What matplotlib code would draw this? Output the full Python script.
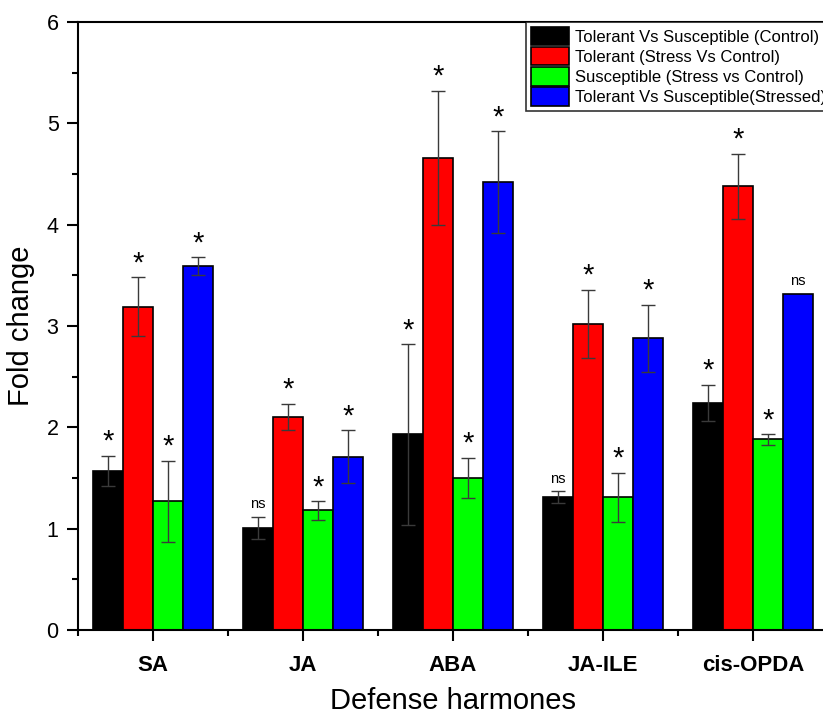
import matplotlib
matplotlib.use("Agg")
import matplotlib.pyplot as plt
import numpy as np

plt.rcParams["font.family"] = ["Liberation Sans", "DejaVu Sans"]

categories = ["SA", "JA", "ABA", "JA-ILE", "cis-OPDA"]
series_names = [
    "Tolerant Vs Susceptible (Control)",
    "Tolerant (Stress Vs Control)",
    "Susceptible (Stress vs Control)",
    "Tolerant Vs Susceptible(Stressed)",
]
colors = ["#000000", "#ff0000", "#00ff00", "#0000ff"]

tol_vs_sus_control = [1.57, 1.01, 1.93, 1.31, 2.24]
tol_stress_vs_control = [3.19, 2.10, 4.66, 3.02, 4.38]
sus_stress_vs_control = [1.27, 1.18, 1.50, 1.31, 1.88]
tol_vs_sus_stressed = [3.59, 1.71, 4.42, 2.88, 3.32]

err_tol_vs_sus_control = [0.15, 0.11, 0.89, 0.06, 0.18]
err_tol_stress_vs_control = [0.29, 0.13, 0.66, 0.34, 0.32]
err_sus_stress_vs_control = [0.40, 0.09, 0.20, 0.24, 0.05]
err_tol_vs_sus_stressed = [0.09, 0.26, 0.50, 0.33, 0.0]

sig_tol_vs_sus_control = ["*", "ns", "*", "ns", "*"]
sig_tol_stress_vs_control = ["*", "*", "*", "*", "*"]
sig_sus_stress_vs_control = ["*", "*", "*", "*", "*"]
sig_tol_vs_sus_stressed = ["*", "*", "*", "*", "ns"]

values = [tol_vs_sus_control, tol_stress_vs_control, sus_stress_vs_control, tol_vs_sus_stressed]
errors = [err_tol_vs_sus_control, err_tol_stress_vs_control, err_sus_stress_vs_control, err_tol_vs_sus_stressed]
marks = [sig_tol_vs_sus_control, sig_tol_stress_vs_control, sig_sus_stress_vs_control, sig_tol_vs_sus_stressed]

fig = plt.figure(figsize=(8.23, 7.15), dpi=100)
ax = fig.add_axes([78 / 823, 85 / 715, 750 / 823, 608 / 715])

x = np.arange(len(categories))
width = 0.2
for i, (vals, errs, sig) in enumerate(zip(values, errors, marks)):
    pos = x + (i - 1.5) * width
    ax.bar(pos, vals, width, color=colors[i], edgecolor="black", linewidth=1.2,
           label=series_names[i], zorder=2)
    has_err = [e > 0 for e in errs]
    ax.errorbar(pos[has_err], np.array(vals)[has_err], yerr=np.array(errs)[has_err],
                fmt="none", ecolor="#3a3a3a", elinewidth=1, capsize=5, capthick=1, zorder=3)
    for p, v, e, s in zip(pos, vals, errs, sig):
        if s == "*":
            ax.annotate(s, (p, v + e), xytext=(0, 0), textcoords="offset points",
                        ha="center", va="bottom", fontsize=21)
        else:
            ax.annotate(s, (p, v + e), xytext=(0, 4), textcoords="offset points",
                        ha="center", va="bottom", fontsize=10.5)

ax.set_xlim(-0.5, 4.5)
ax.set_ylim(0, 6)
ax.set_xticks(x)
ax.set_xticklabels(categories, fontsize=16, fontweight="bold")
ax.set_xticks(np.arange(-0.5, 4.6, 1.0), minor=True)
ax.set_yticks(np.arange(0, 7, 1))
ax.set_yticks(np.arange(0.5, 6, 1.0), minor=True)
ax.tick_params(axis="y", which="major", labelsize=15.5, length=8, width=1.5, direction="out", pad=6)
ax.tick_params(axis="y", which="minor", length=4, width=1.5, direction="out")
ax.tick_params(axis="x", which="major", length=8, width=1.5, direction="out", pad=10)
ax.tick_params(axis="x", which="minor", length=4, width=1.5, direction="out")
for side in ["left", "bottom", "top", "right"]:
    ax.spines[side].set_linewidth(1.5)

ax.set_xlabel("Defense harmones", fontsize=21, labelpad=8)
ax.set_ylabel("Fold change", fontsize=21, labelpad=8)

leg = ax.legend(loc="upper left", bbox_to_anchor=((526 - 78) / 750, 1.0), borderaxespad=0,
                fontsize=12, frameon=True, fancybox=False, edgecolor="black",
                handlelength=2.3, handleheight=1.3, labelspacing=0.12, handletextpad=0.35,
                borderpad=0.3)
leg.get_frame().set_linewidth(1.2)

fig.savefig("out.png", dpi=100)
